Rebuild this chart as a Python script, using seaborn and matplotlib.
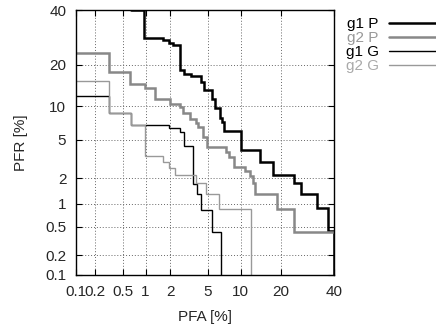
import math
from statistics import NormalDist
import numpy as np
import pandas as pd
import matplotlib
matplotlib.use("Agg")
import matplotlib.pyplot as plt
import seaborn as sns

# ---- data (values in %) ----
tick_values = [0.1, 0.2, 0.5, 1, 2, 5, 10, 20, 40]
tick_labels = ["0.1", "0.2", "0.5", "1", "2", "5", "10", "20", "40"]

series_names = ["g1 P", "g2 P", "g1 G", "g2 G"]

g1p_pfa = [0.64, 0.96, 1.62, 1.94, 2.16, 2.57, 2.85, 3.36, 4.26, 4.59, 5.55, 5.85,
           6.51, 6.9, 7.13, 10.0, 14.2, 17.7, 24.4, 26.7, 32.7, 37.5, 40.0]
g1p_pfr = [40.0, 28.9, 28.4, 27.3, 26.5, 18.5, 17.3, 16.8, 15.4, 13.3, 11.3, 9.6,
           8.0, 7.3, 6.1, 3.99, 3.03, 2.17, 1.75, 1.30, 0.87, 0.437, 0.05]

g2p_pfa = [0.05, 0.32, 0.63, 0.99, 1.32, 1.99, 2.57, 2.78, 3.31, 3.78, 3.97, 4.46,
           4.95, 7.39, 7.92, 8.72, 10.9, 11.85, 12.6, 13.1, 18.8, 24.4, 45.0]
g2p_pfr = [23.8, 17.9, 14.8, 13.8, 11.3, 10.4, 9.87, 8.7, 7.73, 7.13, 6.65, 5.34,
           4.30, 3.83, 3.41, 2.66, 2.38, 2.12, 1.75, 1.31, 0.86, 0.43, 0.43]

g1g_pfa = [0.05, 0.32, 0.64, 1.95, 2.57, 2.87, 3.53, 3.94, 4.26, 5.47, 6.75]
g1g_pfr = [12.1, 8.7, 6.95, 6.43, 5.99, 4.34, 1.71, 1.31, 0.84, 0.43, 0.05]

g2g_pfa = [0.05, 0.32, 0.64, 0.99, 1.64, 1.95, 2.26, 3.86, 4.85, 6.42, 12.05]
g2g_pfr = [15.5, 8.7, 6.95, 3.47, 3.02, 2.58, 2.17, 1.75, 1.31, 0.85, 0.05]

# ---- probit (normal deviate) scale ----
_nd = NormalDist()


def _fwd(p):
    q = np.clip(np.asarray(p, dtype=float) / 100.0, 1e-12, 1 - 1e-12)
    return np.vectorize(_nd.inv_cdf, otypes=[float])(q)


def _inv(z):
    z = np.asarray(z, dtype=float)
    return np.vectorize(lambda v: 100.0 * _nd.cdf(v), otypes=[float])(z)


sns.set_style("ticks")
plt.rcParams["font.family"] = ["Liberation Sans", "DejaVu Sans"]
plt.rcParams["font.size"] = 11

fig = plt.figure(figsize=(4.36, 3.26), dpi=100)
ax = fig.add_axes([76 / 436, 51 / 326, 258.3 / 436, 265 / 326])
ax.set_xscale("function", functions=(_fwd, _inv))
ax.set_yscale("function", functions=(_fwd, _inv))

styles = [
    dict(color="black", lw=1.8),
    dict(color="#888888", lw=1.8),
    dict(color="black", lw=1.0),
    dict(color="#999999", lw=1.0),
]
data = [(g1p_pfa, g1p_pfr), (g2p_pfa, g2p_pfr), (g1g_pfa, g1g_pfr), (g2g_pfa, g2g_pfr)]

handles = []
for name, (xs, ys), st in zip(series_names, data, styles):
    df = pd.DataFrame({"PFA": xs, "PFR": ys})
    sns.lineplot(data=df, x="PFA", y="PFR", sort=False, estimator=None,
                 drawstyle="steps-post", ax=ax, solid_joinstyle="miter", **st)
    ln = ax.lines[-1]
    ln.set_label(name)
    handles.append(ln)

ax.set_xlim(0.1, 40)
ax.set_ylim(0.1, 40)
ax.set_xticks(tick_values, tick_labels)
ax.set_yticks(tick_values, tick_labels)
ax.minorticks_off()
ax.tick_params(direction="in", top=True, right=True, length=4, width=0.8,
               labelsize=11, pad=7, color="black")
ax.grid(True, linestyle=(0, (1, 2)), color="#666666", lw=0.7)
for s in ax.spines.values():
    s.set_visible(True)
    s.set_linewidth(1.0)
    s.set_color("black")

ax.set_xlabel("PFA [%]", fontsize=11, labelpad=8)
ax.set_ylabel("PFR [%]", fontsize=11, labelpad=12)

leg = ax.legend(handles=handles, labels=series_names, loc="upper right",
                bbox_to_anchor=(1.0, 1 - 17 / 326), bbox_transform=fig.transFigure,
                frameon=False, markerfirst=False, handlelength=3.1,
                handletextpad=0.65, labelspacing=0.0, borderpad=0,
                borderaxespad=0, fontsize=11,
                labelcolor=["black", "#999999", "black", "#aaaaaa"])

fig.savefig("out.png", dpi=100)
